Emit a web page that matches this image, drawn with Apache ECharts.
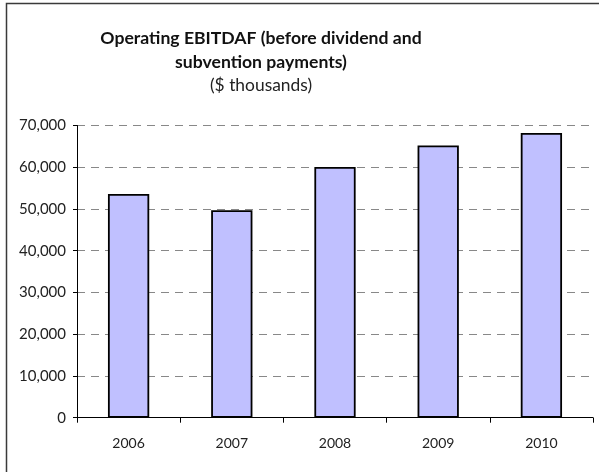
<!DOCTYPE html>
<html>
<head>
<meta charset="utf-8">
<script src="https://cdn.jsdelivr.net/npm/echarts@6/dist/echarts.min.js"></script>
<style>html,body{margin:0;padding:0;background:#fff;overflow:hidden}#c{width:599px;height:472px}</style>
</head>
<body>
<div id="c"></div>
<script>
var categories = ['2006', '2007', '2008', '2009', '2010'];
var values = [53600, 49700, 60050, 65200, 68200];
var titleLines = ['Operating EBITDAF (before dividend and', 'subvention payments)'];
var subtitle = '($ thousands)';

var chart = echarts.init(document.getElementById('c'), null, {renderer: 'canvas'});
var font = 'Lato, "Open Sans", sans-serif';
function txt(t, y, size, weight, color) {
  return {type: 'text', x: 261, y: y, silent: true,
    style: {text: t, align: 'center', verticalAlign: 'middle', fontFamily: font, fontSize: size, fontWeight: weight, fill: color}};
}
chart.setOption({
  animation: false,
  backgroundColor: '#fff',
  graphic: [
    {type: 'polyline', silent: true, shape: {points: [[6.5, 472], [6.5, 3.5], [599, 3.5]]},
      style: {stroke: '#3a3a3a', lineWidth: 1.5, fill: null}},
    txt(titleLines[0], 38.5, 17.6, 'bold', '#111'),
    txt(titleLines[1], 62, 17.6, 'bold', '#111'),
    txt(subtitle, 85.5, 17.4, 'normal', '#222')
  ],
  grid: {left: 77, right: 6, top: 125.5, bottom: 54.3, containLabel: false},
  xAxis: {
    type: 'category', data: categories, boundaryGap: true,
    axisLine: {lineStyle: {color: '#000', width: 1}},
    axisTick: {show: true, length: 5, alignWithLabel: false, lineStyle: {color: '#000'}},
    axisLabel: {fontFamily: font, fontSize: 14, color: '#222', margin: 19}
  },
  yAxis: {
    type: 'value', min: 0, max: 70000, interval: 10000,
    axisLine: {show: true, lineStyle: {color: '#000', width: 1}},
    axisTick: {show: true, length: 4, lineStyle: {color: '#000'}},
    axisLabel: {fontFamily: font, fontSize: 15, color: '#222', margin: 11,
      formatter: function (v) { return v.toLocaleString('en-US'); }},
    splitLine: {show: true, lineStyle: {color: '#888', type: [8, 6], width: 1}}
  },
  series: [{
    type: 'bar', data: values, barWidth: '40%',
    itemStyle: {color: '#c0c0ff', borderColor: '#000', borderWidth: 1.8}
  }]
});
</script>
</body>
</html>
